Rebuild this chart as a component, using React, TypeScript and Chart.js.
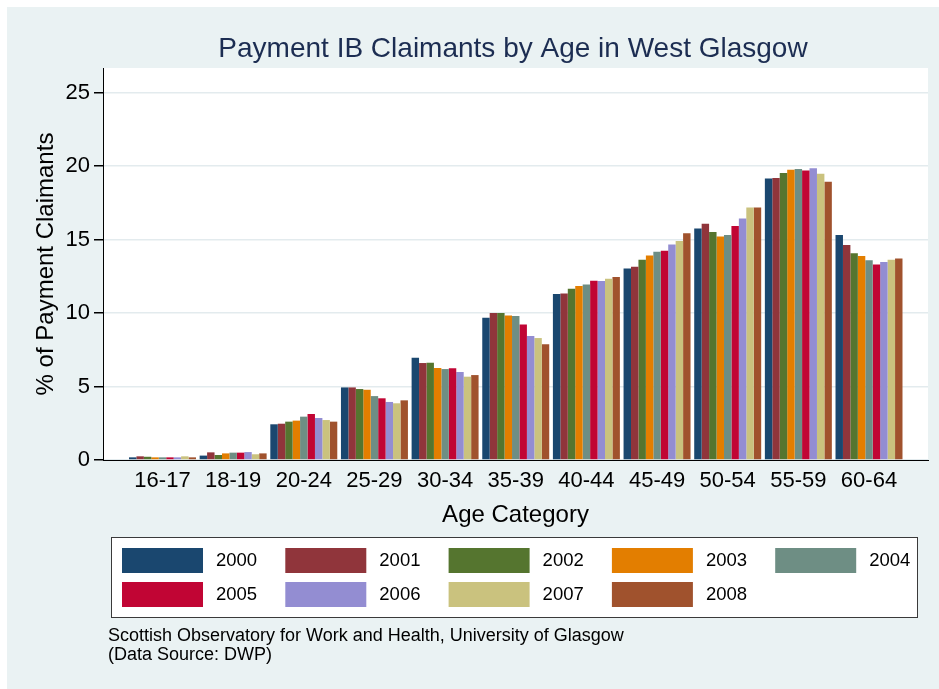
import React, { useEffect, useRef } from "react";
import { Chart, registerables } from "chart.js";

Chart.register(...registerables);

const categories = ["16-17", "18-19", "20-24", "25-29", "30-34", "35-39", "40-44", "45-49", "50-54", "55-59", "60-64"];
const years = ["2000", "2001", "2002", "2003", "2004", "2005", "2006", "2007", "2008"];

const v2000 = [0.18, 0.3, 2.43, 4.94, 6.96, 9.68, 11.29, 13.04, 15.76, 19.16, 15.31];
const v2001 = [0.25, 0.52, 2.47, 4.94, 6.6, 10.0, 11.34, 13.15, 16.08, 19.2, 14.63];
const v2002 = [0.22, 0.34, 2.61, 4.83, 6.62, 10.0, 11.65, 13.63, 15.51, 19.54, 14.08];
const v2003 = [0.18, 0.45, 2.68, 4.78, 6.26, 9.84, 11.84, 13.92, 15.22, 19.75, 13.88];
const v2004 = [0.18, 0.5, 2.95, 4.35, 6.19, 9.8, 11.95, 14.17, 15.31, 19.8, 13.6];
const v2005 = [0.18, 0.5, 3.13, 4.2, 6.24, 9.23, 12.2, 14.24, 15.92, 19.7, 13.31];
const v2006 = [0.18, 0.54, 2.86, 3.95, 5.99, 8.44, 12.18, 14.67, 16.44, 19.86, 13.47];
const v2007 = [0.25, 0.39, 2.72, 3.86, 5.67, 8.3, 12.34, 14.9, 17.19, 19.48, 13.63];
const v2008 = [0.18, 0.45, 2.61, 4.06, 5.78, 7.87, 12.45, 15.44, 17.19, 18.93, 13.72];

const seriesValues = [v2000, v2001, v2002, v2003, v2004, v2005, v2006, v2007, v2008];
const yTickValues = [0, 5, 10, 15, 20, 25];

const titleText = "Payment IB Claimants by Age in West Glasgow";
const yTitleText = "% of Payment Claimants";
const xTitleText = "Age Category";
const noteLines = ["Scottish Observatory for Work and Health, University of Glasgow", "(Data Source: DWP)"];

const palette = ["#1a476f", "#90353b", "#55752f", "#e37e00", "#6e8e84", "#c10534", "#938dd2", "#cac27e", "#a0522d"];

const FONT = "'Liberation Sans', Arial, Helvetica, sans-serif";
const BG = "#eaf2f3";

const decorPlugin = {
  id: "decor",
  beforeDraw(chart: any) {
    const { ctx, width, height, chartArea } = chart;
    ctx.save();
    ctx.fillStyle = "#ffffff";
    ctx.fillRect(0, 0, width, height);
    ctx.fillStyle = BG;
    ctx.fillRect(7, 7, width - 7, height - 7);
    ctx.fillStyle = "#ffffff";
    ctx.fillRect(chartArea.left, chartArea.top, chartArea.right - chartArea.left, chartArea.bottom - chartArea.top);
    ctx.restore();
  },
  afterDraw(chart: any) {
    const { ctx, chartArea } = chart;
    ctx.save();
    // Title
    ctx.fillStyle = "#1c2d52";
    ctx.font = `28px ${FONT}`;
    ctx.textAlign = "center";
    ctx.textBaseline = "middle";
    ctx.fillText(titleText, 513, 49);

    // Y title
    ctx.fillStyle = "#000";
    ctx.font = `24px ${FONT}`;
    ctx.save();
    ctx.translate(46, (chartArea.top + chartArea.bottom) / 2);
    ctx.rotate(-Math.PI / 2);
    ctx.fillText(yTitleText, 0, 0);
    ctx.restore();

    // X title
    ctx.fillText(xTitleText, (chartArea.left + chartArea.right) / 2, 515);

    // Legend
    const bx = 111, by = 537, bw = 806, bh = 80;
    ctx.fillStyle = "#ffffff";
    ctx.fillRect(bx, by, bw, bh);
    ctx.strokeStyle = "#3a3a3a";
    ctx.lineWidth = 1;
    ctx.strokeRect(bx + 0.5, by + 0.5, bw, bh);
    ctx.font = `18.5px ${FONT}`;
    ctx.textAlign = "left";
    ctx.textBaseline = "middle";
    years.forEach((yr, i) => {
      const col = i % 5;
      const row = Math.floor(i / 5);
      const sx = 122 + col * 163.3;
      const sy = 548 + row * 34;
      ctx.fillStyle = palette[i];
      ctx.fillRect(sx, sy, 81, 25);
      ctx.fillStyle = "#000";
      ctx.fillText(yr, sx + 94, sy + 13);
    });

    // Note
    ctx.font = `18px ${FONT}`;
    ctx.fillStyle = "#000";
    ctx.textBaseline = "middle";
    noteLines.forEach((line, i) => {
      ctx.fillText(line, 108, 636 + i * 19);
    });
    ctx.restore();
  },
};

export default function App() {
  const canvasRef = useRef<HTMLCanvasElement | null>(null);

  useEffect(() => {
    const canvas = canvasRef.current;
    if (!canvas) return;
    const datasets = years.map((yr, i) => ({
      label: yr,
      data: seriesValues[i].map((v, j) => ({ x: j, y: v })),
      backgroundColor: palette[i],
      borderWidth: 0,
      categoryPercentage: 0.948,
      barPercentage: 1,
    }));
    const chart = new Chart(canvas, {
      type: "bar",
      data: { datasets },
      plugins: [decorPlugin],
      options: {
        responsive: false,
        animation: false,
        devicePixelRatio: 1,
        layout: { padding: { left: 0, top: 68, right: 11, bottom: 0 } },
        plugins: {
          legend: { display: false },
          title: { display: false },
          tooltip: { enabled: false },
        },
        scales: {
          x: {
            type: "linear",
            min: -0.842,
            max: 10.835,
            offset: false,
            grid: { display: false, drawTicks: false },
            border: { display: true, color: "#000", width: 1 },
            afterBuildTicks(scale: any) {
              scale.ticks = categories.map((_, i) => ({ value: i }));
            },
            afterFit(scale: any) {
              scale.height = 229;
            },
            ticks: {
              autoSkip: false,
              maxRotation: 0,
              minRotation: 0,
              padding: 8,
              color: "#000",
              font: { family: FONT, size: 22 },
              callback: (value: any) => categories[Math.round(Number(value))] ?? "",
            },
          },
          y: {
            type: "linear",
            min: 0,
            max: 26.68,
            grid: {
              color: "#e3ebee",
              lineWidth: 1.5,
              tickColor: "#000",
              tickLength: 9,
              drawTicks: true,
            },
            border: { display: true, color: "#000", width: 1 },
            afterBuildTicks(scale: any) {
              scale.ticks = yTickValues.map((v) => ({ value: v }));
            },
            afterFit(scale: any) {
              scale.width = 103;
            },
            ticks: {
              padding: 4,
              color: "#000",
              font: { family: FONT, size: 22 },
              callback: (value: any) => String(value),
            },
          },
        },
      },
    } as any);
    return () => chart.destroy();
  }, []);

  return (
    <div style={{ position: "fixed", left: 0, top: 0, width: 939, height: 689 }}>
      <canvas ref={canvasRef} width={939} height={689} style={{ display: "block", width: 939, height: 689 }} />
    </div>
  );
}
